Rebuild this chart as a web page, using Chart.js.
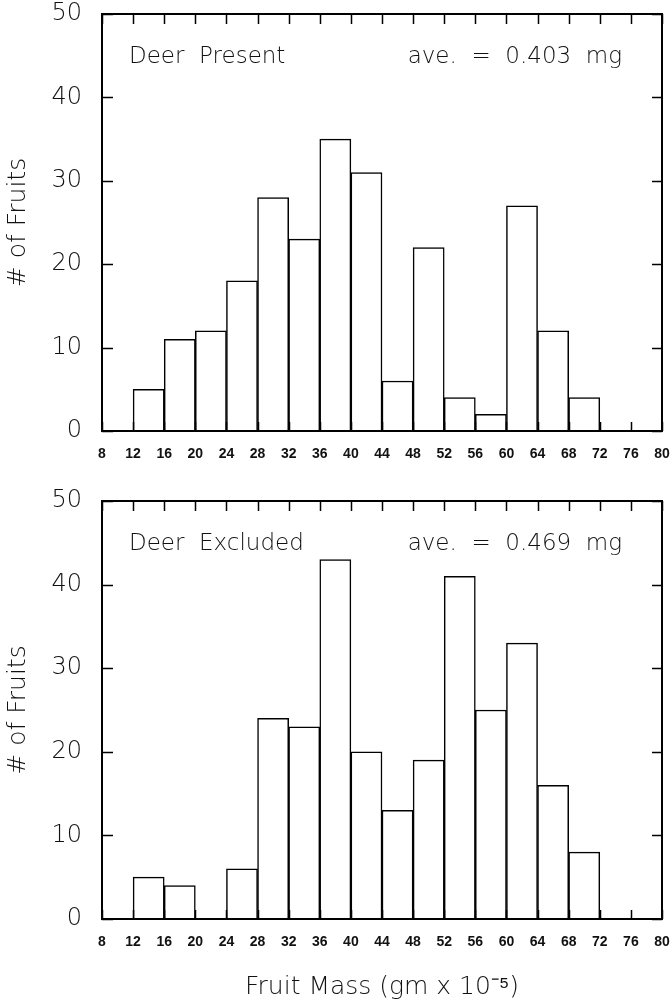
<!DOCTYPE html>
<html>
<head>
<meta charset="utf-8">
<script src="https://cdn.jsdelivr.net/npm/chart.js@4.4.1/dist/chart.umd.min.js"></script>
<style>
  body { margin: 0; background: #fff; width: 672px; height: 1005px; overflow: hidden; }
  .panel { position: absolute; left: 0; width: 672px; }
</style>
</head>
<body>
<div class="panel" style="top:0;height:472px"><canvas id="topChart"></canvas></div>
<div class="panel" style="top:472px;height:533px"><canvas id="bottomChart"></canvas></div>
<script>
// bin start of each 4-unit class (gm x 10^-5)
let binStarts = [12, 16, 20, 24, 28, 32, 36, 40, 44, 48, 52, 56, 60, 64, 68];
let presentCounts = [5, 11, 12, 18, 28, 23, 35, 31, 6, 22, 4, 2, 27, 12, 4];
let excludedCounts = [5, 4, 0, 6, 24, 23, 43, 20, 13, 19, 41, 25, 33, 16, 8];
let binWidth = 4;
let xMin = 8, xMax = 80;
let yMin = 0, yMax = 50, yStep = 10;

const FONT = "'DejaVu Sans', 'Liberation Sans', sans-serif";
const TICKFONT = "'Liberation Sans', Arial, sans-serif";

// box frame, inward ticks on all four sides, panel texts
const framePlugin = {
    id: 'frame',
    afterDraw(chart, args, opts) {
        let ctx = chart.ctx;
        let a = chart.chartArea;
        let xs = chart.scales.x;
        let ys = chart.scales.y;
        ctx.save();
        ctx.strokeStyle = '#000';
        ctx.lineWidth = 2;
        ctx.strokeRect(a.left, a.top, a.right - a.left, a.bottom - a.top);
        ctx.lineWidth = 1.5;
        ctx.beginPath();
        xs.ticks.forEach(t => {
            let px = Math.round(xs.getPixelForValue(t.value)) + 0.5;
            ctx.moveTo(px, a.top); ctx.lineTo(px, a.top + 10);
            ctx.moveTo(px, a.bottom); ctx.lineTo(px, a.bottom - 9);
        });
        ys.ticks.forEach(t => {
            let py = Math.round(ys.getPixelForValue(t.value)) + 0.5;
            ctx.moveTo(a.left, py); ctx.lineTo(a.left + 11, py);
            ctx.moveTo(a.right, py); ctx.lineTo(a.right - 10, py);
        });
        ctx.stroke();

        ctx.fillStyle = '#111';
        ctx.font = '200 23px ' + FONT;
        ctx.textBaseline = 'alphabetic';
        ctx.textAlign = 'left';
        ctx.fillText(opts.left, a.left + 27, a.top + 49);
        ctx.textAlign = 'right';
        ctx.fillText(opts.right, a.right - 40, a.top + 49);
        ctx.restore();
    }
};

function makeChart(id, counts, leftText, rightText, showTitle) {
    let points = binStarts.map((s, i) => ({ x: s + binWidth / 2, y: counts[i] }));
    return new Chart(document.getElementById(id), {
        type: 'bar',
        data: {
            datasets: [{
                data: points,
                backgroundColor: '#fff',
                borderColor: '#000',
                borderWidth: 1.5,
                barPercentage: 1,
                categoryPercentage: 1
            }]
        },
        options: {
            responsive: true,
            maintainAspectRatio: false,
            animation: false,
            layout: { padding: { top: showTitle ? 29 : 14, right: 10, left: 0, bottom: 0 } },
            plugins: {
                legend: { display: false },
                tooltip: { enabled: false },
                frame: { left: leftText, right: rightText }
            },
            scales: {
                x: {
                    type: 'linear',
                    offset: false,
                    min: xMin,
                    max: xMax,
                    grid: { display: false },
                    border: { display: false },
                    ticks: {
                        stepSize: binWidth,
                        padding: 7,
                        color: '#111',
                        maxRotation: 0,
                        autoSkip: false,
                        font: { family: TICKFONT, size: 14, weight: 'bold' }
                    },
                    title: {
                        display: showTitle,
                        text: 'Fruit Mass (gm x 10⁻⁵)',
                        color: '#111',
                        padding: { top: 0, bottom: 3 },
                        font: { family: FONT, size: 25, weight: 200 }
                    },
                    afterFit(scale) {
                        scale.height = showTitle ? 86 : 41;
                        scale.paddingLeft = 0;
                        scale.paddingRight = 0;
                    }
                },
                y: {
                    min: yMin,
                    max: yMax,
                    grid: { display: false },
                    border: { display: false },
                    ticks: {
                        stepSize: yStep,
                        padding: 12,
                        color: '#111',
                        font: { family: FONT, size: 24, weight: 200 }
                    },
                    title: {
                        display: true,
                        text: '# of Fruits',
                        color: '#111',
                        padding: { top: 3, bottom: 0 },
                        font: { family: FONT, size: 25, weight: 200 }
                    },
                    afterFit(scale) {
                        scale.width = 102;
                        scale.paddingTop = 0;
                        scale.paddingBottom = 0;
                    }
                }
            }
        },
        plugins: [framePlugin]
    });
}

makeChart('topChart', presentCounts, 'Deer  Present', 'ave.  =  0.403  mg', false);
makeChart('bottomChart', excludedCounts, 'Deer  Excluded', 'ave.  =  0.469  mg', true);
</script>
</body>
</html>
